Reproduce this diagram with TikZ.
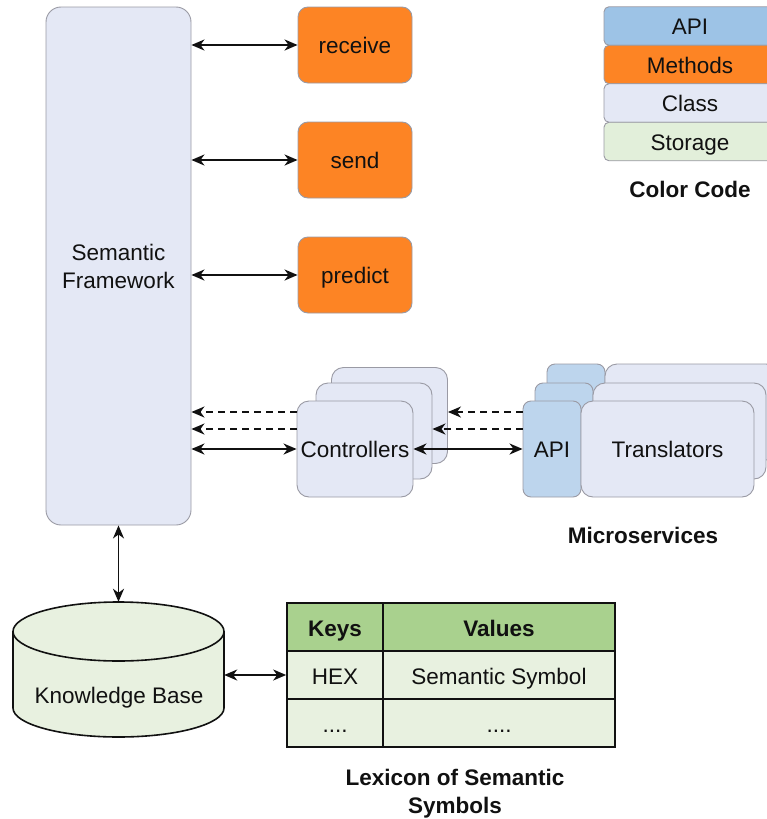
\documentclass[tikz,border=0pt]{standalone}
\usepackage{fontspec}
\setmainfont{Liberation Sans}
\usetikzlibrary{arrows.meta}

\definecolor{classfill}{HTML}{E4E8F5}
\definecolor{methodfill}{HTML}{FD8424}
\definecolor{apifill}{HTML}{BDD5ED}
\definecolor{apikey}{HTML}{9DC3E6}
\definecolor{storefill}{HTML}{E8F1E0}
\definecolor{storekey}{HTML}{E2EFDA}
\definecolor{headfill}{HTML}{A9D18E}
\definecolor{edgegray}{HTML}{9A9AA4}
\definecolor{ink}{HTML}{111111}

\begin{document}
\begin{tikzpicture}[x=1pt,y=-1pt,
  font=\fontsize{22.5}{28}\selectfont,
  >={Stealth[length=13pt,width=11pt,inset=4pt]},
  box/.style={draw=edgegray,line width=0.9pt,inner sep=0pt,align=center,text=ink},
  oneline/.style={text height=17.5pt,text depth=0pt},
  classbox/.style={box,oneline,fill=classfill,rounded corners=12pt,minimum width=116pt,minimum height=96pt},
  methodbox/.style={box,oneline,fill=methodfill,rounded corners=10pt,minimum width=114pt,minimum height=76pt},
  apibox/.style={box,oneline,fill=apifill,rounded corners=8pt,minimum width=58pt,minimum height=96pt},
  transbox/.style={box,oneline,fill=classfill,rounded corners=12pt,minimum width=173pt,minimum height=96pt},
  keybox/.style={box,oneline,rounded corners=5pt,minimum width=172pt,minimum height=38.5pt},
  cell/.style={draw=ink,line width=1.7pt,inner sep=0pt,text height=19.5pt,text depth=0pt,minimum height=48pt,text=ink},
  title/.style={font=\fontsize{22.5}{28}\selectfont\bfseries,align=center,text=ink},
  link/.style={line width=1.8pt,draw=ink},
  weak/.style={link,dash pattern=on 7pt off 5pt}
]
\clip (0,0) rectangle (767,819);

% main framework class
\node[box,fill=classfill,rounded corners=15pt,minimum width=145pt,minimum height=518pt]
  (sf) at (118.5,266) {Semantic\\Framework};

% methods
\node[methodbox] (recv) at (355,45)  {receive};
\node[methodbox] (send) at (355,160) {send};
\node[methodbox] (pred) at (355,275) {predict};

\draw[link,<->] (sf.east |- recv.west) -- (recv.west);
\draw[link,<->] (sf.east |- send.west) -- (send.west);
\draw[link,<->] (sf.east |- pred.west) -- (pred.west);

% controllers stack
\node[classbox] (ctrlA) at (389.5,415.5) {};
\node[classbox] (ctrlB) at (374,431) {};
\node[classbox] (ctrlC) at (355,449) {Controllers};

% microservices stack: API + translators
\node[apibox]   (apiA) at (576,412) {};
\node[transbox] (trA)  at (691.5,412) {};
\node[apibox]   (apiB) at (564,431) {};
\node[transbox] (trB)  at (679.5,431) {};
\node[apibox]   (apiC) at (552,449) {API};
\node[transbox] (trC)  at (667.5,449) {Translators};
\node[title] (micro) at (643,535) {Microservices};

% links controllers <-> framework
\draw[weak,->] (ctrlC.west |- 0,412) -- (sf.east |- 0,412);
\draw[weak,->] (ctrlC.west |- 0,429) -- (sf.east |- 0,429);
\draw[link,<->] (sf.east |- ctrlC.west) -- (ctrlC.west);

% links microservices -> controllers
\draw[weak,->] (apiC.west |- 0,412) -- (ctrlA.east |- 0,412);
\draw[weak,->] (apiC.west |- 0,429) -- (ctrlB.east |- 0,429);
\draw[link,<->] (ctrlC.east) -- (apiC.west);

% knowledge base cylinder
\filldraw[fill=storefill,draw=ink,line width=1.6pt]
  (13,631.5) -- (13,708)
  arc[start angle=180,end angle=360,x radius=105.5pt,y radius=29pt]
  -- (224,631.5)
  arc[start angle=0,end angle=180,x radius=105.5pt,y radius=29.5pt] -- cycle;
\draw[draw=ink,line width=1.6pt] (13,631.5)
  arc[start angle=180,end angle=360,x radius=105.5pt,y radius=29.5pt];
\node[inner sep=0pt,minimum width=211pt,minimum height=135pt] (kb) at (118.5,669.5) {};
\node[text=ink,oneline,inner sep=0pt] (kbtext) at (119,695) {Knowledge Base};

\draw[link,<->] (sf.south -| kb.north) -- (kb.north);

% lexicon table
\node[cell,fill=headfill,minimum width=96pt,font=\fontsize{22.5}{28}\selectfont\bfseries] (keys) at (335,627) {Keys};
\node[cell,fill=headfill,minimum width=232pt,font=\fontsize{22.5}{28}\selectfont\bfseries] (vals) at (499,627) {Values};
\node[cell,fill=storefill,minimum width=96pt] (hex) at (335,675) {HEX};
\node[cell,fill=storefill,minimum width=232pt] (sym) at (499,675) {Semantic Symbol};
\node[cell,fill=storefill,minimum width=96pt] (dotk) at (335,723) {....};
\node[cell,fill=storefill,minimum width=232pt] (dotv) at (499,723) {....};
\node[title] (lex) at (455,794) {Lexicon of Semantic\\Symbols};

\draw[link,<->] (hex.west -| kb.east) -- (hex.west);

% colour legend
\node[keybox,fill=apikey]    (kapi)  at (690,26)    {API};
\node[keybox,fill=methodfill](kmeth) at (690,64.5)  {Methods};
\node[keybox,fill=classfill] (kcls)  at (690,103)   {Class};
\node[keybox,fill=storekey]  (kstor) at (690,141.5) {Storage};
\node[title] (legend) at (690,189) {Color Code};
\end{tikzpicture}
\end{document}
